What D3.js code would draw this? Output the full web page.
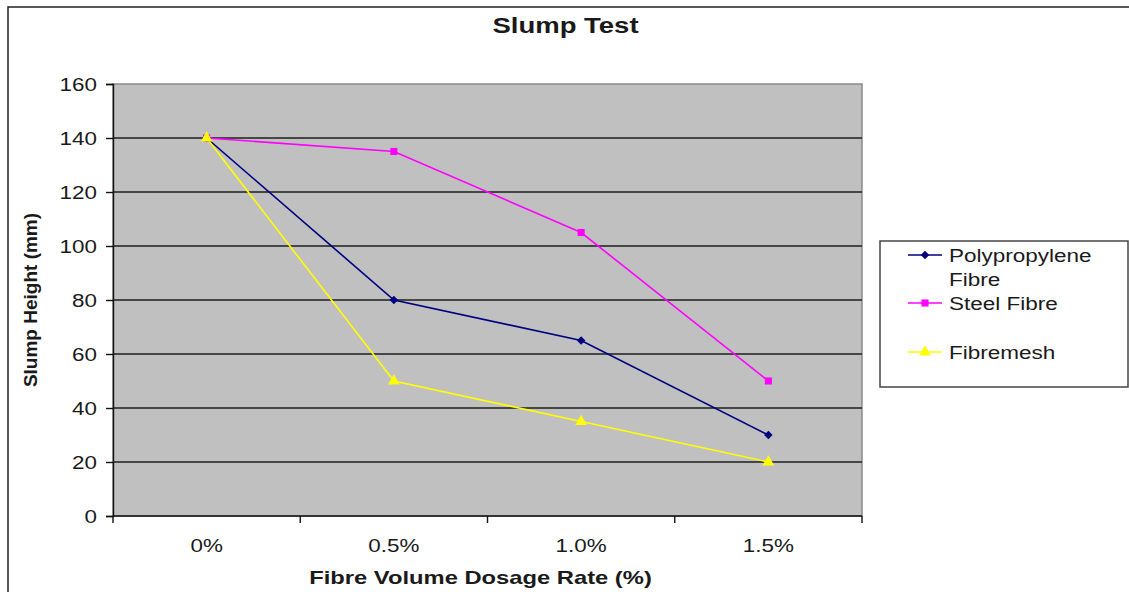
<!DOCTYPE html>
<meta charset="utf-8">
<script src="https://d3js.org/d3.v7.min.js"></script>
<style>
  body { margin: 0; background: #fff; }
  text { font-family: "Liberation Sans", Arial, sans-serif; fill: #1a1a1a; }
</style>
<div id="chart"></div>
<script>

// data
const dosages = ["0%", "0.5%", "1.0%", "1.5%"];
const polypropylene = [140, 80, 65, 30];
const steel = [140, 135, 105, 50];
const fibremesh = [140, 50, 35, 20];
const yTicks = [0, 20, 40, 60, 80, 100, 120, 140, 160];

const series = [
  {name: ["Polypropylene", "Fibre"], values: polypropylene, color: "#000080", shape: d3.symbolSquare, rot: 45, size: 36},
  {name: ["Steel Fibre"], values: steel, color: "#ff00ff", shape: d3.symbolSquare, rot: 0, size: 50},
  {name: ["Fibremesh"], values: fibremesh, color: "#ffff00", shape: d3.symbolTriangle, rot: 0, size: 60}
];

const W = 1129, H = 592;
const plot = {left: 113, right: 862, top: 84, bottom: 516};

const svg = d3.select("#chart").append("svg")
    .attr("width", W)
    .attr("height", H);

// outer chart frame (only top and left are in view)
svg.append("rect")
    .attr("x", 8).attr("y", 7)
    .attr("width", W + 20).attr("height", H + 20)
    .attr("fill", "none")
    .attr("stroke", "#222")
    .attr("stroke-width", 1.5);

// picture text is stretched sideways, so scale it on x
function label(x, y, txt, size, weight, anchor, sx) {
  return svg.append("text")
      .attr("transform", `translate(${x},${y}) scale(${sx || 1.25},1)`)
      .attr("text-anchor", anchor || "middle")
      .style("font-size", size + "px")
      .style("font-weight", weight || "normal")
      .text(txt);
}

const x = d3.scaleBand()
    .domain(dosages)
    .range([plot.left, plot.right]);

const y = d3.scaleLinear()
    .domain([0, 160])
    .range([plot.bottom, plot.top]);

// plot background
svg.append("rect")
    .attr("x", plot.left).attr("y", plot.top)
    .attr("width", plot.right - plot.left)
    .attr("height", plot.bottom - plot.top)
    .attr("fill", "#c0c0c0")
    .attr("stroke", "#8a8a8a")
    .attr("stroke-width", 1.5);

// gridlines
svg.append("g")
  .selectAll("line")
  .data(yTicks.filter(d => d > 0 && d < 160))
  .join("line")
    .attr("x1", plot.left).attr("x2", plot.right)
    .attr("y1", d => y(d)).attr("y2", d => y(d))
    .attr("stroke", "#1e1e1e")
    .attr("stroke-width", 1.3);

// y axis
const yAxis = svg.append("g")
    .attr("transform", `translate(${plot.left},0)`)
    .call(d3.axisLeft(y).tickValues(yTicks).tickSize(7).tickFormat(""));
yAxis.selectAll("line, path").attr("stroke", "#111").attr("stroke-width", 1.4);

yTicks.forEach(t => {
  label(97, y(t) + 7, String(t), 19, "normal", "end", 1.18);
});

// x axis, ticks on category boundaries
svg.append("line")
    .attr("x1", plot.left).attr("x2", plot.right)
    .attr("y1", plot.bottom).attr("y2", plot.bottom)
    .attr("stroke", "#111").attr("stroke-width", 1.4);
const bounds = dosages.map(d => x(d)).concat([x(dosages[dosages.length - 1]) + x.bandwidth()]);
svg.append("g")
  .selectAll("line")
  .data(bounds)
  .join("line")
    .attr("x1", d => d).attr("x2", d => d)
    .attr("y1", plot.bottom).attr("y2", plot.bottom + 7)
    .attr("stroke", "#111").attr("stroke-width", 1.4);

dosages.forEach(d => {
  label(x(d) + x.bandwidth() / 2, 552, d, 19, "normal", "middle", 1.18);
});

// titles
label((plot.left + plot.right) / 2 + 78, 33, "Slump Test", 22, "bold");
label((plot.left + plot.right) / 2 - 7, 584, "Fibre Volume Dosage Rate (%)", 19, "bold");
svg.append("text")
    .attr("transform", `translate(37,${(plot.top + plot.bottom) / 2}) rotate(-90)`)
    .attr("text-anchor", "middle")
    .style("font-size", "19px")
    .style("font-weight", "bold")
    .text("Slump Height (mm)");

// series lines and markers
const line = d3.line()
    .x((d, i) => x(dosages[i]) + x.bandwidth() / 2)
    .y(d => y(d));

series.forEach(s => {
  svg.append("path")
      .datum(s.values)
      .attr("fill", "none")
      .attr("stroke", s.color)
      .attr("stroke-width", 1.6)
      .attr("d", line);
});

series.forEach(s => {
  svg.append("g")
    .selectAll("path")
    .data(s.values)
    .join("path")
      .attr("transform", (d, i) => `translate(${x(dosages[i]) + x.bandwidth() / 2},${y(d)}) rotate(${s.rot})`)
      .attr("d", d3.symbol().type(s.shape).size(s.size))
      .attr("fill", s.color);
});

// legend
const legend = {x: 880, y: 241, w: 248, h: 146};
svg.append("rect")
    .attr("x", legend.x).attr("y", legend.y)
    .attr("width", legend.w).attr("height", legend.h)
    .attr("fill", "#fff")
    .attr("stroke", "#444")
    .attr("stroke-width", 1.5);

const rowY = [255, 303, 352];
series.forEach((s, i) => {
  const cy = rowY[i];
  svg.append("line")
      .attr("x1", 908).attr("x2", 942)
      .attr("y1", cy).attr("y2", cy)
      .attr("stroke", s.color).attr("stroke-width", 1.6);
  svg.append("path")
      .attr("transform", `translate(925,${cy}) rotate(${s.rot})`)
      .attr("d", d3.symbol().type(s.shape).size(s.size))
      .attr("fill", s.color);
  s.name.forEach((t, j) => {
    label(949, cy + 6.5 + j * 24, t, 18, "normal", "start");
  });
});

</script>
